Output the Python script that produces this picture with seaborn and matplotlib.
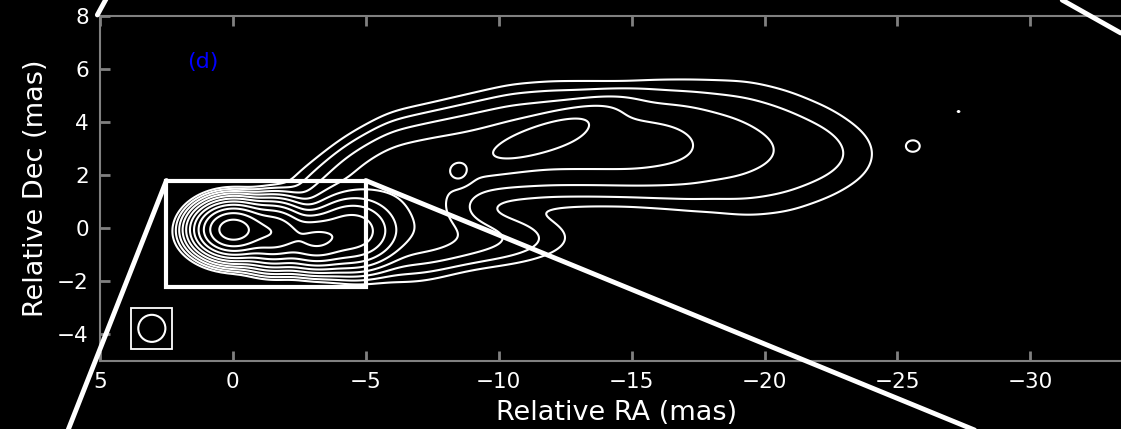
import numpy as np
import matplotlib
matplotlib.use("Agg")
import matplotlib.pyplot as plt
from matplotlib.lines import Line2D
from matplotlib.patches import Rectangle, Circle
import seaborn as sns

# ---- data: model of the radio map (mas, relative brightness) ----
# compact Gaussian components (core region, knots, small islands)
comp_x = [0.0, -1.5, -3.1, -4.5, -2.5, -6.5, -8.5, -11.8, -8.5, -25.6, -27.3]
comp_y = [-0.05, -0.15, -0.45, -0.1, -0.3, 0.5, -0.4, 3.5, 2.1, 3.1, 4.4]
comp_amp = [1500, 420, 230, 190, 30, 12, 5, 12, 9, 1.25, 1.05]
comp_sx = [0.58, 0.6, 0.6, 0.75, 1.6, 1.3, 2.2, 1.6, 0.3, 0.35, 0.12]
comp_sy = [0.42, 0.5, 0.45, 0.6, 0.55, 1.1, 0.6, 0.4, 0.3, 0.3, 0.08]
comp_pa = [0, 0, 0, 0, 0, 0, 0, -21, 0, 0, 0]
# extended jet ridge: position, peak brightness and width along the jet
ridge_x = [-1.5, -3.0, -4.5, -6.0, -7.5, -9.0, -10.5, -12.0, -13.5, -15.0, -16.5, -18.0, -19.5, -21.0, -22.5, -23.5, -24.3, -25.0]
ridge_y = [0.8, 1.1, 1.75, 2.35, 2.65, 2.9, 3.1, 3.2, 3.2, 3.15, 3.15, 3.1, 3.0, 2.9, 2.85, 2.8, 2.8, 2.8]
ridge_amp = [0, 4, 8, 11, 12, 12, 13, 13.5, 13.5, 13, 10.5, 7, 5, 3.6, 2.6, 1.7, 0.8, 0.3]
ridge_w = [0.6, 0.7, 0.8, 0.85, 0.85, 0.9, 0.95, 0.95, 0.95, 0.95, 1.05, 1.2, 1.35, 1.35, 1.15, 0.95, 0.85, 0.8]
levels = [1, 2, 4, 8, 16, 32, 64, 128, 256, 512, 1024]

x_ticks = [5, 0, -5, -10, -15, -20, -25, -30]
y_ticks = [-4, -2, 0, 2, 4, 6, 8]
zoom_box = [2.5, -5.0, -2.2, 1.8]   # x0, x1, y0, y1
beam_center = [3.05, -3.77]
beam_radius = 0.51
panel_label = "(d)"

sns.set_theme(style="dark", rc={"axes.facecolor": "black", "figure.facecolor": "black"})
plt.rcParams["font.family"] = ["DejaVu Sans"]

fig = plt.figure(figsize=(11.21, 4.29), dpi=100)
ax = fig.add_axes([100 / 1121, 68 / 429, 1034 / 1121, 345 / 429])

step = 0.04
xs = np.arange(6, -36, -step)
ys = np.arange(-6, 9, step)
X, Y = np.meshgrid(xs, ys)
Z = np.zeros_like(X)
for cx, cy, a, sx, sy, pa in zip(comp_x, comp_y, comp_amp, comp_sx, comp_sy, comp_pa):
    t = np.deg2rad(pa)
    dx, dy = X - cx, Y - cy
    u = dx * np.cos(t) + dy * np.sin(t)
    v = -dx * np.sin(t) + dy * np.cos(t)
    Z += a * np.exp(-0.5 * ((u / sx) ** 2 + (v / sy) ** 2))
rx = ridge_x[::-1]
r_amp = np.interp(X, rx, ridge_amp[::-1], left=0, right=0)
r_y = np.interp(X, rx, ridge_y[::-1])
r_w = np.interp(X, rx, ridge_w[::-1])
R = r_amp * np.exp(-0.5 * ((Y - r_y) / r_w) ** 2)
# restore the map with a round beam (smooths the ridge)
kx = np.arange(-40, 41) * step
kern = np.exp(-0.5 * (kx / 0.45) ** 2)
kern /= kern.sum()
R = np.apply_along_axis(lambda r: np.convolve(r, kern, mode="same"), 1, R)
R = np.apply_along_axis(lambda c: np.convolve(c, kern, mode="same"), 0, R)
Z += R

ax.contour(X, Y, Z, levels=levels, colors="white", linewidths=1.5)

ax.set_xlim(5, -33.9)
ax.set_ylim(-5, 8)
ax.set_xticks(x_ticks)
ax.set_yticks(y_ticks)
ax.set_xticklabels([f"{v}".replace("-", "\u2212") for v in x_ticks])
ax.set_yticklabels([f"{v}".replace("-", "\u2212") for v in y_ticks])
ax.tick_params(axis="both", which="both", direction="in", length=7, width=2,
               color="#808080", labelcolor="white", labelsize=15.5, pad=8,
               top=True, right=True, bottom=True, left=True)
for s in ax.spines.values():
    s.set_color("#808080")
    s.set_linewidth(1.5)
ax.grid(False)
ax.set_xlabel("Relative RA (mas)", color="white", fontsize=19.5, labelpad=6)
ax.set_ylabel("Relative Dec (mas)", color="white", fontsize=19.5, labelpad=6)

ax.text(1.13, 6.26, panel_label, color="blue", fontsize=16, ha="center", va="center")

# zoom box and beam
ax.add_patch(Rectangle((zoom_box[0], zoom_box[2]), zoom_box[1] - zoom_box[0], zoom_box[3] - zoom_box[2],
                       fill=False, ec="white", lw=3, zorder=5))
ax.add_patch(Rectangle((beam_center[0] - 0.77, beam_center[1] - 0.77), 1.54, 1.54,
                       fill=False, ec="white", lw=1.3, zorder=5))
ax.add_patch(Circle(beam_center, beam_radius, fill=False, ec="white", lw=1.5, zorder=5))

# connector lines to neighbouring panels
for (x0, y0), (x1, y1) in [((2.5, 1.8), (6.2, -7.6)), ((-5.0, 1.8), (-27.9, -7.6)),
                           ((5.1, 8.04), (4.74, 8.7)), ((-31.2, 8.6), (-33.4, 7.36))]:
    ax.add_line(Line2D([x0, x1], [y0, y1], color="white", lw=3.5, clip_on=False, zorder=6))

fig.savefig("out.png", dpi=100, facecolor="black")
